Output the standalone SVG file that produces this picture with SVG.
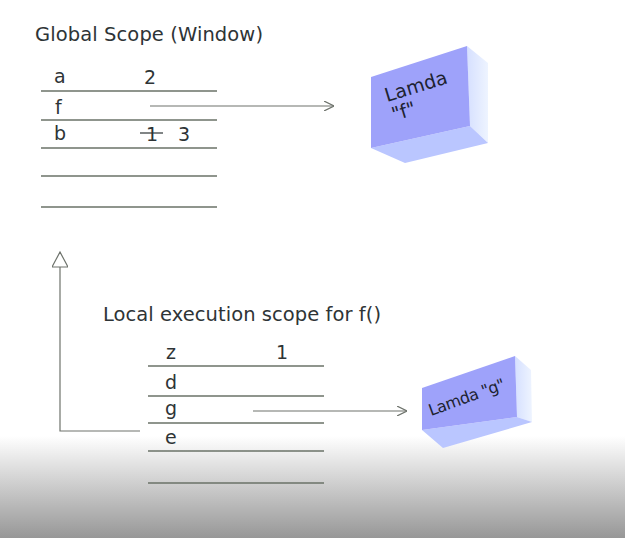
<svg xmlns="http://www.w3.org/2000/svg" width="625" height="538" viewBox="0 0 625 538">
<defs>
<linearGradient id="bg" x1="0" y1="0" x2="0" y2="1">
<stop offset="0" stop-color="#ffffff"/>
<stop offset="1" stop-color="#979797"/>
</linearGradient>
<linearGradient id="sidefade" x1="0" y1="0" x2="1" y2="0">
<stop offset="0" stop-color="#d6e0ff"/>
<stop offset="1" stop-color="#eef4ff"/>
</linearGradient>
<marker id="open" viewBox="0 0 10 10" refX="10" refY="5" markerWidth="10" markerHeight="10" markerUnits="userSpaceOnUse" orient="auto">
<path d="M0,0 L10,5 L0,10" fill="none" stroke="#6e736c" stroke-width="1.2"/>
</marker>
<marker id="tri" viewBox="0 0 20 16" refX="18" refY="8" markerWidth="20" markerHeight="16" markerUnits="userSpaceOnUse" orient="auto">
<path d="M18,8 L3,0 L3,16 Z" fill="#ffffff" stroke="#6e736c" stroke-width="1.2"/>
</marker>
</defs>
<style>
text{font-family:"DejaVu Sans",sans-serif;fill:#2e3436}
.t{font-size:19.5px}
.l{font-size:19px}
.row{stroke:#6a7267;stroke-width:1.6}
.conn{stroke:#6e736c;stroke-width:1.2;fill:none}
.front{fill:#9ea2fa}
.side{fill:url(#sidefade)}
.bot{fill:#bac6ff}
.lam{font-size:19px;fill:#1d2230}
</style>
<rect x="0" y="0" width="625" height="538" fill="#ffffff"/>
<rect x="0" y="436" width="625" height="102" fill="url(#bg)"/>

<g id="global-scope">
<text class="t" x="35" y="41" textLength="228">Global Scope (Window)</text>
<line class="row" x1="41" y1="91" x2="217" y2="91"/>
<line class="row" x1="41" y1="120" x2="217" y2="120"/>
<line class="row" x1="41" y1="148" x2="217" y2="148"/>
<line class="row" x1="41" y1="176" x2="217" y2="176"/>
<line class="row" x1="41" y1="207" x2="217" y2="207"/>
<text class="l" x="54" y="83">a</text>
<text class="l" x="144" y="84">2</text>
<text class="l" x="55" y="114">f</text>
<text class="l" x="54" y="140">b</text>
<text class="l" x="146" y="141">1</text>
<line x1="140" y1="133" x2="163" y2="133" stroke="#2e3436" stroke-width="1.2"/>
<text class="l" x="178" y="141">3</text>
</g>

<g id="lamda-f">
<polygon class="side" points="467,46 488,63 488,143 470,126"/>
<polygon class="bot" points="371,148 470,126 488,143 405,163"/>
<polygon class="front" points="371,77 467,46 470,126 371,148"/>
<text class="lam" transform="translate(387,102) rotate(-17)">Lamda</text>
<text class="lam" transform="translate(394,121) rotate(-17)">"f"</text>
</g>

<g id="local-scope">
<text class="t" x="103" y="321" textLength="278">Local execution scope for f()</text>
<line class="row" x1="148" y1="366" x2="324" y2="366"/>
<line class="row" x1="148" y1="396" x2="324" y2="396"/>
<line class="row" x1="148" y1="423" x2="324" y2="423"/>
<line class="row" x1="148" y1="451" x2="324" y2="451"/>
<line class="row" x1="148" y1="483" x2="324" y2="483"/>
<text class="l" x="166" y="359">z</text>
<text class="l" x="276" y="359">1</text>
<text class="l" x="165" y="389">d</text>
<text class="l" x="165" y="415">g</text>
<text class="l" x="165" y="444">e</text>
</g>

<g id="lamda-g">
<polygon class="side" points="515,356 531,370 532,422 517,417"/>
<polygon class="bot" points="422,430 517,417 532,422 443,448"/>
<polygon class="front" points="422,388 515,356 517,417 422,430"/>
<text class="lam" style="font-size:16px" transform="translate(431,416) rotate(-20)" textLength="80">Lamda "g"</text>
</g>

<g id="connectors">
<line class="conn" x1="150" y1="106" x2="334" y2="106" marker-end="url(#open)"/>
<line class="conn" x1="253" y1="411" x2="407" y2="411" marker-end="url(#open)"/>
<polyline class="conn" points="140,431 60,431 60,252" marker-end="url(#tri)"/>
</g>
</svg>
